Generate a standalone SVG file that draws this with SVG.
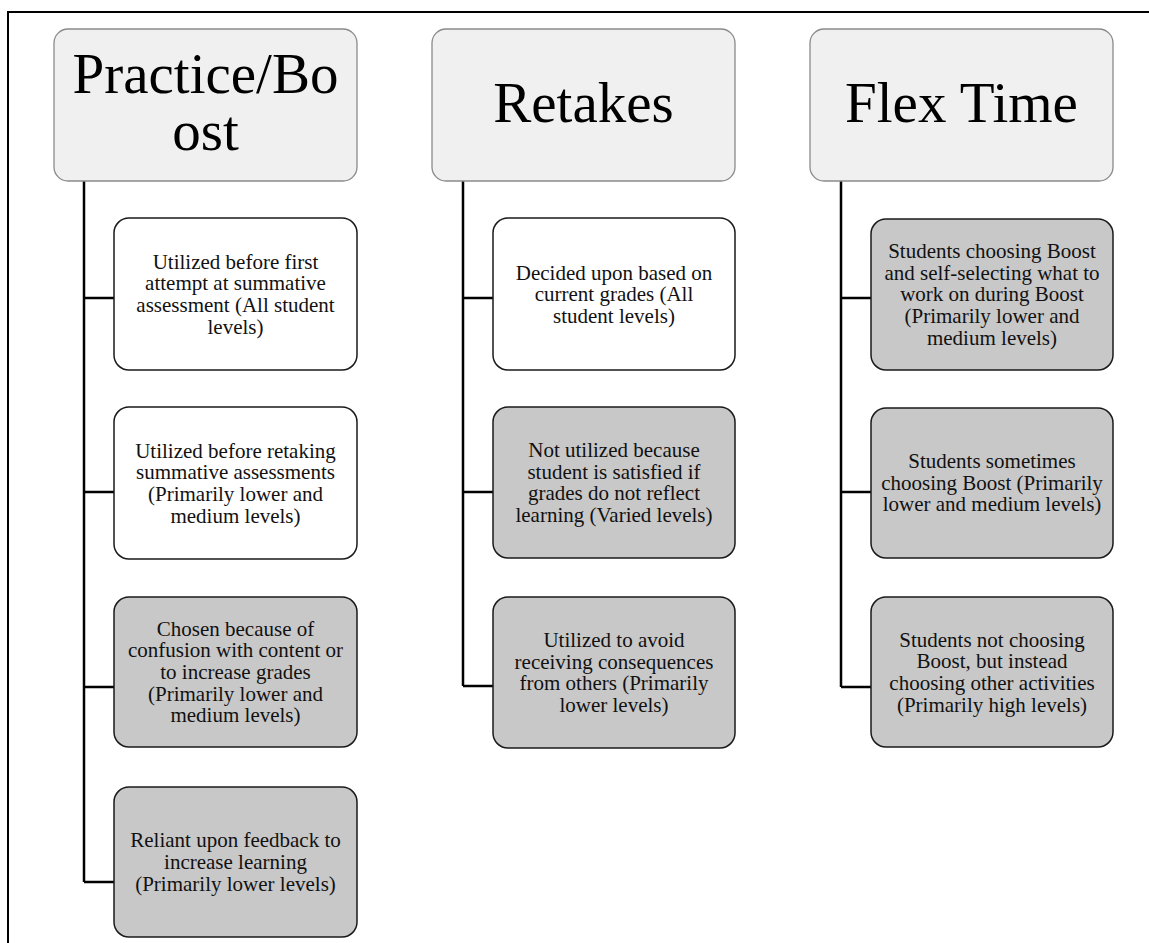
<svg xmlns="http://www.w3.org/2000/svg" width="1149" height="943" viewBox="0 0 1149 943">
<style>
.hdr{fill:#f0f0f0;stroke:#8a8a8a;stroke-width:1.3}
.cw{fill:#ffffff;stroke:#1a1a1a;stroke-width:1.5}
.cg{fill:#c8c8c8;stroke:#1a1a1a;stroke-width:1.5}
.ht{font-family:"Liberation Serif","Times New Roman",serif;font-size:57px;fill:#000;text-anchor:middle}
.ct{font-family:"Liberation Serif","Times New Roman",serif;font-size:21px;fill:#111;text-anchor:middle}
.conn{fill:none;stroke:#000;stroke-width:2.5}
.frame{fill:none;stroke:#000;stroke-width:2}
</style>
<rect width="1149" height="943" fill="#fff"/>
<path class="frame" d="M8,943 V12 H1149"/>
<g id="connectors">
<path class="conn" d="M84,181 V882 M84,298 H114 M84,492 H114 M84,687 H114 M84,882 H114"/>
<path class="conn" d="M463,181 V686 M463,298 H493 M463,492 H493 M463,686 H493"/>
<path class="conn" d="M841,181 V687 M841,298 H871 M841,492 H871 M841,687 H871"/>
</g>
<g id="h-practice">
<rect class="hdr" x="54" y="29" width="303" height="152" rx="14"/>
<text class="ht" x="205.5" y="93">Practice/Bo</text>
<text class="ht" x="205.5" y="150">ost</text>
</g>
<g id="h-retakes">
<rect class="hdr" x="432" y="29" width="303" height="152" rx="14"/>
<text class="ht" x="583.5" y="122">Retakes</text>
</g>
<g id="h-flex">
<rect class="hdr" x="810" y="29" width="303" height="152" rx="14"/>
<text class="ht" x="961.5" y="122">Flex Time</text>
</g>
<g id="p1">
<rect class="cw" x="114" y="218" width="243" height="152" rx="15"/>
<text class="ct" x="235.5" y="268.5">Utilized before first<tspan x="235.5" dy="21.7">attempt at summative</tspan><tspan x="235.5" dy="21.7">assessment (All student</tspan><tspan x="235.5" dy="21.7">levels)</tspan></text>
</g>
<g id="p2">
<rect class="cw" x="114" y="407" width="243" height="152" rx="15"/>
<text class="ct" x="235.5" y="457.5">Utilized before retaking<tspan x="235.5" dy="21.7">summative assessments</tspan><tspan x="235.5" dy="21.7">(Primarily lower and</tspan><tspan x="235.5" dy="21.7">medium levels)</tspan></text>
</g>
<g id="p3">
<rect class="cg" x="114" y="597" width="243" height="150" rx="15"/>
<text class="ct" x="235.5" y="635.6">Chosen because of<tspan x="235.5" dy="21.7">confusion with content or</tspan><tspan x="235.5" dy="21.7">to increase grades</tspan><tspan x="235.5" dy="21.7">(Primarily lower and</tspan><tspan x="235.5" dy="21.7">medium levels)</tspan></text>
</g>
<g id="p4">
<rect class="cg" x="114" y="787" width="243" height="150" rx="15"/>
<text class="ct" x="235.5" y="847.3">Reliant upon feedback to<tspan x="235.5" dy="21.7">increase learning</tspan><tspan x="235.5" dy="21.7">(Primarily lower levels)</tspan></text>
</g>
<g id="r1">
<rect class="cw" x="493" y="218" width="242" height="152" rx="15"/>
<text class="ct" x="614" y="279.5">Decided upon based on<tspan x="614" dy="21.7">current grades (All</tspan><tspan x="614" dy="21.7">student levels)</tspan></text>
</g>
<g id="r2">
<rect class="cg" x="493" y="407" width="242" height="151" rx="15"/>
<text class="ct" x="614" y="457">Not utilized because<tspan x="614" dy="21.7">student is satisfied if</tspan><tspan x="614" dy="21.7">grades do not reflect</tspan><tspan x="614" dy="21.7">learning (Varied levels)</tspan></text>
</g>
<g id="r3">
<rect class="cg" x="493" y="597" width="242" height="151" rx="15"/>
<text class="ct" x="614" y="647">Utilized to avoid<tspan x="614" dy="21.7">receiving consequences</tspan><tspan x="614" dy="21.7">from others (Primarily</tspan><tspan x="614" dy="21.7">lower levels)</tspan></text>
</g>
<g id="f1">
<rect class="cg" x="871" y="219" width="242" height="151" rx="15"/>
<text class="ct" x="992" y="258">Students choosing Boost<tspan x="992" dy="21.7">and self-selecting what to</tspan><tspan x="992" dy="21.7">work on during Boost</tspan><tspan x="992" dy="21.7">(Primarily lower and</tspan><tspan x="992" dy="21.7">medium levels)</tspan></text>
</g>
<g id="f2">
<rect class="cg" x="871" y="408" width="242" height="150" rx="15"/>
<text class="ct" x="992" y="468">Students sometimes<tspan x="992" dy="21.7">choosing Boost (Primarily</tspan><tspan x="992" dy="21.7">lower and medium levels)</tspan></text>
</g>
<g id="f3">
<rect class="cg" x="871" y="597" width="242" height="150" rx="15"/>
<text class="ct" x="992" y="646.5">Students not choosing<tspan x="992" dy="21.7">Boost, but instead</tspan><tspan x="992" dy="21.7">choosing other activities</tspan><tspan x="992" dy="21.7">(Primarily high levels)</tspan></text>
</g>
</svg>
